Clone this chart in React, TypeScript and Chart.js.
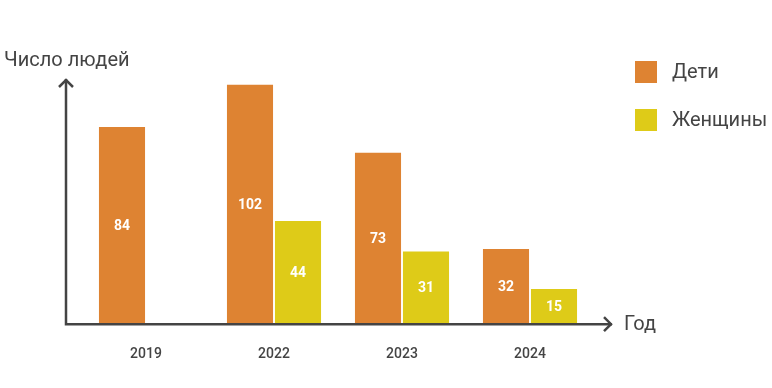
import React, { useEffect, useRef } from "react";
import { Chart, registerables } from "chart.js";

Chart.register(...registerables);

const categories = ["2019", "2022", "2023", "2024"];
const childrenValues: (number | null)[] = [84, 102, 73, 32];
const womenValues: (number | null)[] = [null, 44, 31, 15];
const seriesLabels = ["Дети", "Женщины"];
const yAxisTitle = "Число людей";
const xAxisTitle = "Год";

const ORANGE = "#DE8332";
const YELLOW = "#DECB18";
const INK = "#444444";
const FONT = "Roboto, 'Noto Sans', sans-serif";

const axesPlugin = {
  id: "arrowAxes",
  afterDraw(chart: any) {
    const { ctx, chartArea } = chart;
    const x0 = chartArea.left - 16;
    const y0 = chartArea.bottom;
    const yTop = 79;
    const xEnd = chartArea.right + 18;
    ctx.save();
    ctx.strokeStyle = INK;
    ctx.lineWidth = 2.5;
    ctx.lineCap = "butt";
    ctx.beginPath();
    ctx.moveTo(x0, y0 + 1.25);
    ctx.lineTo(x0, yTop);
    ctx.moveTo(x0 - 1.25, y0);
    ctx.lineTo(xEnd, y0);
    ctx.stroke();
    ctx.lineJoin = "miter";
    ctx.beginPath();
    ctx.moveTo(x0 - 7, yTop + 8);
    ctx.lineTo(x0, yTop + 1);
    ctx.lineTo(x0 + 7, yTop + 8);
    ctx.moveTo(xEnd - 8, y0 - 7);
    ctx.lineTo(xEnd - 1, y0);
    ctx.lineTo(xEnd - 8, y0 + 7);
    ctx.stroke();

    ctx.fillStyle = INK;
    ctx.font = `20px ${FONT}`;
    ctx.textBaseline = "middle";
    ctx.textAlign = "left";
    ctx.fillText(yAxisTitle, 4, 61);
    ctx.fillText(xAxisTitle, xEnd + 12, y0 + 1);

    // legend
    const colors = [ORANGE, YELLOW];
    chart.data.datasets.forEach((ds: any, i: number) => {
      const cy = 72 + i * 48;
      ctx.fillStyle = colors[i];
      ctx.fillRect(635, cy - 11, 22, 22);
      ctx.fillStyle = INK;
      ctx.font = `20px ${FONT}`;
      ctx.fillText(ds.label, 672, cy + 1);
    });

    // value labels
    ctx.font = `bold 14px ${FONT}`;
    ctx.fillStyle = "#ffffff";
    ctx.textAlign = "center";
    chart.data.datasets.forEach((ds: any, i: number) => {
      const meta = chart.getDatasetMeta(i);
      meta.data.forEach((bar: any, j: number) => {
        const v = ds.data[j];
        if (v === null || v === undefined) return;
        const { x, y, base } = bar.getProps(["x", "y", "base"], true);
        ctx.fillText(String(v), x, (y + base) / 2 + 1);
      });
    });
    ctx.restore();
  },
};

export default function App() {
  const ref = useRef<HTMLCanvasElement | null>(null);
  useEffect(() => {
    if (!ref.current) return;
    const chart = new Chart(ref.current, {
      type: "bar",
      data: {
        labels: categories,
        datasets: [
          {
            label: seriesLabels[0],
            data: childrenValues,
            backgroundColor: ORANGE,
            categoryPercentage: 0.75,
            barPercentage: 0.96,
          },
          {
            label: seriesLabels[1],
            data: womenValues,
            backgroundColor: YELLOW,
            categoryPercentage: 0.75,
            barPercentage: 0.96,
          },
        ],
      },
      options: {
        animation: false,
        responsive: false,
        maintainAspectRatio: false,
        layout: { padding: { left: 82, right: 178, top: 66, bottom: 3 } },
        plugins: { legend: { display: false }, tooltip: { enabled: false } },
        scales: {
          x: {
            grid: { display: false, drawTicks: false },
            border: { display: false },
            ticks: {
              color: INK,
              padding: 22,
              font: { family: FONT, size: 14, weight: 500 },
            },
          },
          y: {
            display: false,
            min: 0,
            max: 110,
          },
        },
      },
      plugins: [axesPlugin],
    });
    return () => chart.destroy();
  }, []);
  return (
    <div style={{ position: "absolute", left: 0, top: 0, width: 772, height: 388, background: "#fff" }}>
      <canvas ref={ref} width={772} height={388} style={{ width: 772, height: 388 }} />
    </div>
  );
}
